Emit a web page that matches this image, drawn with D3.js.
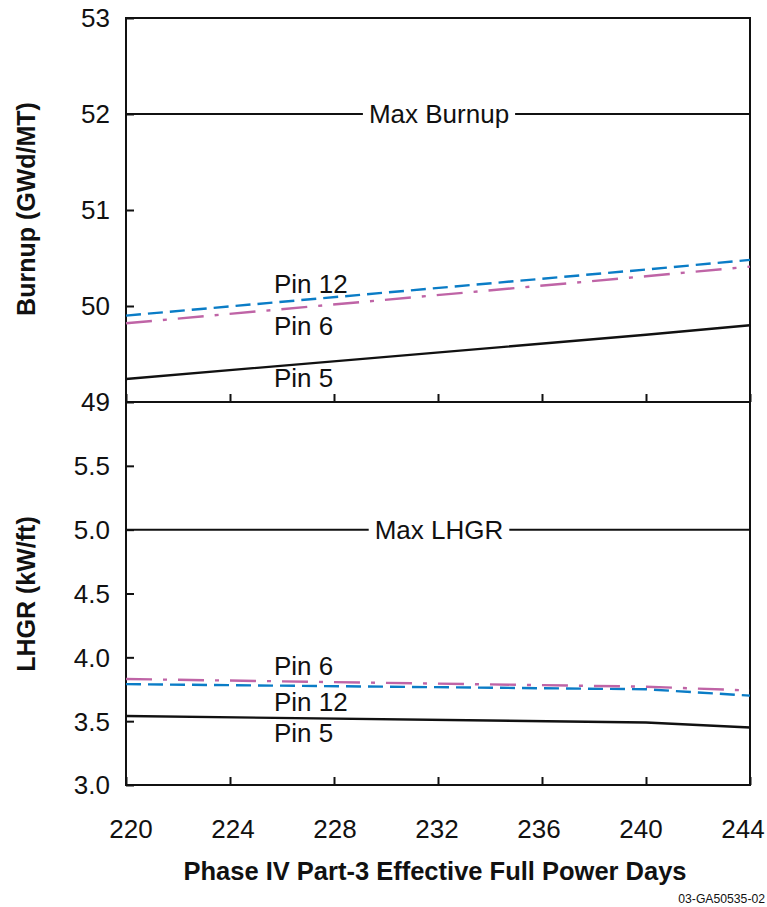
<!DOCTYPE html>
<html>
<head>
<meta charset="utf-8">
<script src="https://cdn.jsdelivr.net/npm/d3@7"></script>
<style>
  html, body { margin: 0; padding: 0; background: #fff; }
  svg text { font-family: "Liberation Sans", Arial, Helvetica, sans-serif; fill: #111; }
</style>
</head>
<body>
<svg id="chart" width="767" height="907"></svg>
<script>
// Effective full power days
const days = [220, 240, 244];
const xTicks = [220, 224, 228, 232, 236, 240, 244];

// Burnup (GWd/MT) per pin
const burnupPin5  = [49.24, 49.70, 49.80];
const burnupPin6  = [49.82, 50.31, 50.41];
const burnupPin12 = [49.90, 50.38, 50.48];
const maxBurnup = 52;
const burnupTicks = [49, 50, 51, 52, 53];

// LHGR (kW/ft) per pin
const lhgrPin5  = [3.54, 3.49, 3.45];
const lhgrPin6  = [3.83, 3.77, 3.74];
const lhgrPin12 = [3.79, 3.75, 3.70];
const maxLhgr = 5.0;
const lhgrTicks = [3.0, 3.5, 4.0, 4.5, 5.0, 5.5];

const svg = d3.select("#chart");
const left = 126, right = 750;
const x = d3.scaleLinear().domain([220, 244]).range([left, right]);
// tick labels sit slightly inside the frame so the end labels stay on the page
const xLabel = d3.scaleLinear().domain([220, 244]).range([131, 743]);

const yTop = d3.scaleLinear().domain([49, 53]).range([402, 18]);
const yBot = d3.scaleLinear().domain([3.0, 6.0]).range([785, 402]);

const styles = {
  pin5:  { stroke: "#111", dash: null, width: 2.4 },
  pin6:  { stroke: "#bf64a6", dash: "26,11,4,11", width: 2.4 },
  pin12: { stroke: "#0a7cc6", dash: "15,7", width: 2.4 }
};

function panel(y, ticks, tickFmt, series, maxVal, maxLabel, pinLabels, labelTop) {
  const g = svg.append("g");
  // frame
  g.append("rect")
    .attr("x", left).attr("y", y.range()[1])
    .attr("width", right - left).attr("height", y.range()[0] - y.range()[1])
    .attr("fill", "none").attr("stroke", "#111").attr("stroke-width", 2);

  // y axis, ticks pointing inward
  const yAxis = d3.axisRight(y).tickValues(ticks).tickSize(8).tickFormat("");
  const ya = g.append("g").attr("transform", `translate(${left},0)`).call(yAxis);
  ya.select(".domain").remove();
  ya.selectAll("line").attr("stroke", "#111").attr("stroke-width", 2);

  g.selectAll("text.ytick").data(labelTop ? ticks : ticks.filter(t => t < y.domain()[1]))
    .enter().append("text").attr("class", "ytick")
    .attr("x", left - 16).attr("y", d => y(d))
    .attr("dy", "0.36em").attr("text-anchor", "end")
    .attr("font-size", 26).text(tickFmt);

  // x ticks at the bottom of the panel, pointing up
  const xAxis = d3.axisTop(x).tickValues(xTicks).tickSize(8).tickFormat("");
  const xa = g.append("g").attr("transform", `translate(0,${y.range()[0]})`).call(xAxis);
  xa.select(".domain").remove();
  xa.selectAll("line").attr("stroke", "#111").attr("stroke-width", 2);

  // limit line with its label on a white gap
  g.append("line")
    .attr("x1", left).attr("x2", right)
    .attr("y1", y(maxVal)).attr("y2", y(maxVal))
    .attr("stroke", "#111").attr("stroke-width", 2);
  const gapRect = g.append("rect").attr("fill", "#fff");
  const lbl = g.append("text")
    .attr("x", 439).attr("y", y(maxVal)).attr("dy", "0.36em")
    .attr("text-anchor", "middle").attr("font-size", 26).text(maxLabel);
  const bb = lbl.node().getBBox();
  gapRect.attr("x", bb.x - 6).attr("y", bb.y).attr("width", bb.width + 12).attr("height", bb.height);

  // pin series
  const line = d3.line().x((d, i) => x(days[i])).y(d => y(d));
  series.forEach(s => {
    const st = styles[s.key];
    g.append("path").datum(s.values)
      .attr("d", line).attr("fill", "none")
      .attr("stroke", st.stroke).attr("stroke-width", st.width)
      .attr("stroke-dasharray", st.dash);
  });

  pinLabels.forEach(p => {
    g.append("text").attr("x", 274).attr("y", p.y)
      .attr("font-size", 26).text(p.text);
  });
}

panel(yTop, burnupTicks, d => d3.format("d")(d),
  [{ key: "pin5", values: burnupPin5 }, { key: "pin6", values: burnupPin6 }, { key: "pin12", values: burnupPin12 }],
  maxBurnup, "Max Burnup",
  [{ text: "Pin 12", y: 293 }, { text: "Pin 6", y: 335 }, { text: "Pin 5", y: 387 }], true);

panel(yBot, lhgrTicks, d => d3.format(".1f")(d),
  [{ key: "pin5", values: lhgrPin5 }, { key: "pin12", values: lhgrPin12 }, { key: "pin6", values: lhgrPin6 }],
  maxLhgr, "Max LHGR",
  [{ text: "Pin 6", y: 675 }, { text: "Pin 12", y: 711 }, { text: "Pin 5", y: 742 }], false);

// x tick labels
svg.selectAll("text.xtick").data(xTicks).enter().append("text")
  .attr("class", "xtick").attr("x", d => xLabel(d)).attr("y", 838)
  .attr("text-anchor", "middle").attr("font-size", 26).text(d => d);

// axis titles
svg.append("text").attr("x", 435).attr("y", 880)
  .attr("text-anchor", "middle").attr("font-size", 25.5).attr("font-weight", "bold")
  .text("Phase IV Part-3 Effective Full Power Days");

svg.append("text").attr("transform", "translate(35,209) rotate(-90)")
  .attr("text-anchor", "middle").attr("font-size", 25).attr("font-weight", "bold")
  .text("Burnup (GWd/MT)");

svg.append("text").attr("transform", "translate(35,594) rotate(-90)")
  .attr("text-anchor", "middle").attr("font-size", 25).attr("font-weight", "bold")
  .text("LHGR (kW/ft)");

svg.append("text").attr("x", 765).attr("y", 903)
  .attr("text-anchor", "end").attr("font-size", 12.2).text("03-GA50535-02");
</script>
</body>
</html>
